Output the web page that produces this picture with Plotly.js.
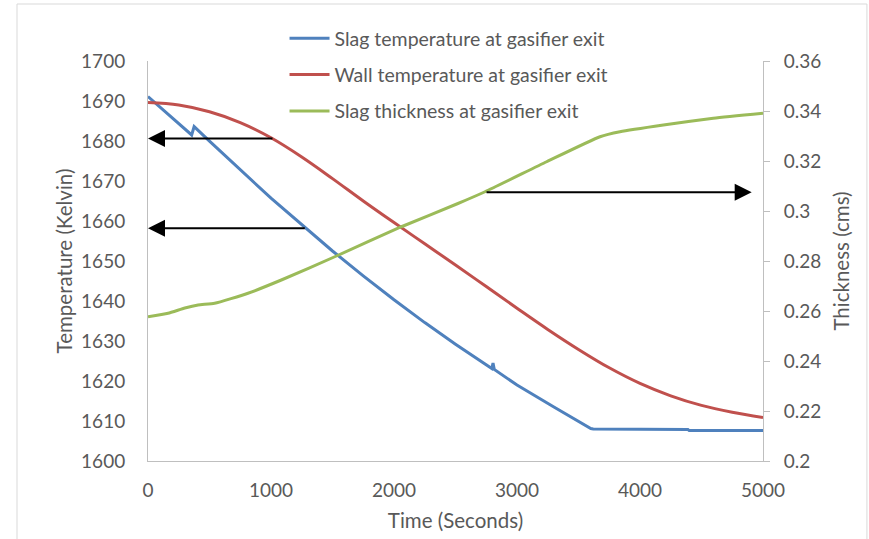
<!DOCTYPE html>
<html>
<head>
<meta charset="utf-8">
<script src="https://cdn.plot.ly/plotly-3.0.1.min.js"></script>
<style>html,body{margin:0;padding:0;background:#fff;}#chart{width:869px;height:539px;}</style>
</head>
<body>
<div id="chart"></div>
<script>
// Slag temperature at gasifier exit (K)
const slagTime = [0, 150, 355, 375, 500, 1000, 1250, 1500, 1750, 2000, 2250, 2500, 2795, 2805, 2815, 3000, 3300, 3600, 3620, 3750, 3760, 4390, 4400, 5000];
const slagTemp = [1691.1, 1687.0, 1681.5, 1683.6, 1679.95, 1665.7, 1659.0, 1652.5, 1646.3, 1640.3, 1634.6, 1629.2, 1623.1, 1624.5, 1622.9, 1619.0, 1613.5, 1608.1, 1608.0, 1608.0, 1607.9, 1607.85, 1607.6, 1607.6];

// Wall temperature at gasifier exit (K)
const wallTime = [0, 250, 500, 750, 1000, 1250, 1500, 1750, 2000, 2250, 2500, 2750, 3000, 3250, 3500, 3750, 4000, 4250, 4500, 4750, 5000];
const wallTemp = [1689.6, 1689.0, 1687.3, 1684.6, 1680.8, 1676.0, 1670.6, 1665.0, 1659.6, 1654.3, 1649.0, 1643.6, 1638.2, 1632.9, 1627.9, 1623.3, 1619.4, 1616.3, 1613.9, 1612.2, 1610.9];

// Slag thickness at gasifier exit (cm)
const thickTime = [0, 163, 300, 407, 542, 813, 1084, 1518, 2060, 2520, 2740, 3241, 3675, 3837, 4190, 4596, 5000];
const thickVal = [0.2577, 0.2591, 0.2612, 0.2624, 0.2631, 0.2671, 0.2724, 0.2817, 0.2937, 0.3030, 0.3077, 0.3197, 0.3297, 0.3317, 0.3344, 0.3371, 0.3391];

// Arrows (tail -> head), in time / left-axis temperature units
const arrowTailT = [1024, 1287, 2740];
const arrowHeadT = [0, 0, 4908];
const arrowTemp = [1680.6, 1658.2, 1667.2];

const FONT = 'Lato, "Open Sans", sans-serif';
const GREY = '#595959';
const AXIS = '#BFBFBF';

const traces = [
  {x: slagTime, y: slagTemp, name: 'Slag temperature at gasifier exit', type: 'scatter', mode: 'lines',
   line: {color: '#4F81BD', width: 3}, legendgroup: 'a'},
  {x: wallTime, y: wallTemp, name: 'Wall temperature at gasifier exit', type: 'scatter', mode: 'lines',
   line: {color: '#C0504D', width: 3, shape: 'spline', smoothing: 1}, legendgroup: 'b'},
  {x: thickTime, y: thickVal, name: 'Slag thickness at gasifier exit', type: 'scatter', mode: 'lines', yaxis: 'y2',
   line: {color: '#9BBB59', width: 3, shape: 'spline', smoothing: 0.5}, legendgroup: 'c'}
];

const annotations = arrowTailT.map((t, i) => ({
  x: arrowHeadT[i], y: arrowTemp[i], ax: arrowTailT[i], ay: arrowTemp[i],
  xref: 'x', yref: 'y', axref: 'x', ayref: 'y',
  text: '', showarrow: true, arrowhead: 2, arrowsize: 1.7, arrowwidth: 2, arrowcolor: '#000', standoff: 0
}));

const layout = {
  width: 869, height: 539,
  margin: {l: 148, r: 106, t: 61, b: 78},
  paper_bgcolor: '#fff', plot_bgcolor: '#fff',
  font: {family: FONT, size: 19, color: GREY},
  showlegend: true,
  legend: {x: 0.222, y: 1.105, xanchor: 'left', yanchor: 'top', bgcolor: 'rgba(0,0,0,0)',
           font: {family: FONT, size: 19.5, color: GREY}, tracegroupgap: 8, itemwidth: 40},
  xaxis: {range: [0, 5000], dtick: 1000, showgrid: false, zeroline: false,
          showline: true, linecolor: AXIS, linewidth: 1, ticks: '', ticklabelstandoff: 12,
          tickfont: {family: FONT, size: 19, color: GREY},
          title: {text: 'Time (Seconds)', font: {family: FONT, size: 20.5, color: GREY}, standoff: 13}},
  yaxis: {range: [1600, 1700], dtick: 10, showgrid: false, zeroline: false,
          showline: true, linecolor: AXIS, linewidth: 1, ticks: '', ticklabelstandoff: 18,
          tickfont: {family: FONT, size: 19, color: GREY},
          title: {text: 'Temperature (Kelvin)', font: {family: FONT, size: 20.5, color: GREY}, standoff: 2}},
  yaxis2: {range: [0.2, 0.36], dtick: 0.02, overlaying: 'y', side: 'right',
           showgrid: false, zeroline: false, showline: true, linecolor: AXIS, linewidth: 1,
           ticks: 'outside', ticklen: 6, tickcolor: AXIS, ticklabelstandoff: 10,
           tickfont: {family: FONT, size: 19, color: GREY},
           title: {text: 'Thickness (cms)', font: {family: FONT, size: 20.5, color: GREY}, standoff: 14}},
  annotations: annotations,
  shapes: [{type: 'rect', xref: 'paper', yref: 'paper', x0: -0.213, x1: 1.169, y0: -0.21, y1: 1.1425,
            line: {color: '#D9D9D9', width: 1}, fillcolor: 'rgba(0,0,0,0)', layer: 'below'}]
};

Plotly.newPlot('chart', traces, layout, {displayModeBar: false, staticPlot: true});
</script>
</body>
</html>
